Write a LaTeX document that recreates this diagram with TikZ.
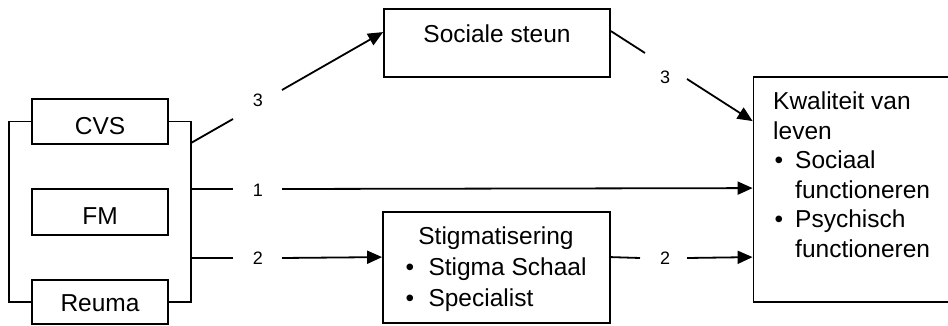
\documentclass[tikz,border=0pt]{standalone}
\usepackage{fontspec}
\setmainfont{Liberation Sans}
\usetikzlibrary{arrows.meta,calc}
\tikzset{
  box/.style={draw, line width=1.8pt, inner sep=0pt, font=\fontsize{24.5}{29.5}\selectfont},
  conn/.style={line width=1.8pt},
  arr/.style={line width=1.8pt, -{Triangle[length=15pt,width=13pt]}},
  lbl/.style={inner sep=0pt, font=\fontsize{18}{20}\selectfont},
  txt/.style={inner sep=0pt, font=\fontsize{24.5}{29.5}\selectfont}
}
\begin{document}
\begin{tikzpicture}[x=1pt,y=-1pt]
\useasboundingbox (0,0) rectangle (948,326);
% left group boxes
\node[box, minimum width=136pt, minimum height=45pt, text height=25.5pt, text depth=0pt] (cvs) at (100,121.5) {CVS};
\node[box, minimum width=136pt, minimum height=46pt, text height=25.5pt, text depth=0pt] (fm) at (100,212) {FM};
\node[box, minimum width=136pt, minimum height=44pt, text height=18.5pt, text depth=0pt] (reuma) at (100,302) {Reuma};
% bracket
\draw[conn] (cvs.west) -- (9,121.5) -- (9,302) -- (reuma.west);
\draw[conn] (cvs.east) -- (191,121.5) coordinate (brtop) -- (191,302) coordinate (brbot) -- (reuma.east);
\coordinate (j3) at (191,143);
\coordinate (j1) at (191,189);
\coordinate (j2) at (191,258);
% other boxes
\node[box, minimum width=226pt, minimum height=68pt, text height=17.5pt, text depth=19pt] (ss) at (497,43) {Sociale steun};
\node[box, minimum width=227pt, minimum height=111pt] (stig) at (496.5,267.5) {};
\node[txt, anchor=base] (stigtxt) at (496,244) {\fontsize{24.5}{31}\selectfont\begin{tabular}[t]{@{}l@{}l@{}}
\multicolumn{2}{@{}c@{}}{Stigmatisering}\\
\makebox[23pt][l]{\textbullet} & Stigma Schaal\\
\makebox[23pt][l]{\textbullet} & Specialist
\end{tabular}};
\node[box, minimum width=197pt, minimum height=225pt] (kv) at (852,189.5) {};
\node[txt, anchor=base west] (kvtxt) at (773,110) {\fontsize{24.5}{29.5}\selectfont\begin{tabular}[t]{@{}l@{}l@{}}
\multicolumn{2}{@{}l@{}}{Kwaliteit van}\\
\multicolumn{2}{@{}l@{}}{leven}\\
\makebox[22pt][l]{\hspace{1.5pt}\textbullet} & Sociaal\\
 & functioneren\\
\makebox[22pt][l]{\hspace{1.5pt}\textbullet} & Psychisch\\
 & functioneren
\end{tabular}};
% connector 3 (left)
\coordinate (g3a) at (233,119);
\coordinate (g3b) at (282,90);
\draw[conn] (j3) -- (g3a);
\node[lbl] (l3a) at (258,100) {3};
\draw[arr] (g3b) -- ($(ss.north west)+(0,24)$);
% connector 3 (right)
\coordinate (g3c) at (645,53);
\coordinate (g3d) at (687,79);
\draw[conn] ($(ss.north east)+(0,23)$) -- (g3c);
\node[lbl] (l3b) at (665,77) {3};
\draw[arr] (g3d) -- ($(kv.north west)+(0,45)$);
% connector 1
\coordinate (g1a) at (233,189);
\coordinate (g1b) at (282,189);
\draw[conn] (j1) -- (g1a);
\node[lbl] (l1) at (258,190) {1};
\draw[arr] (g1b) -- ($(kv.north west)+(0,112)$);
% connector 2 (left)
\coordinate (g2a) at (233,258);
\coordinate (g2b) at (282,258);
\draw[conn] (j2) -- (g2a);
\node[lbl] (l2a) at (258,258) {2};
\draw[arr] (g2b) -- ($(stig.north west)+(0,46)$);
% connector 2 (right)
\coordinate (g2c) at (640,258);
\coordinate (g2d) at (687,258);
\draw[conn] ($(stig.north east)+(0,46)$) -- (g2c);
\node[lbl] (l2b) at (665,258) {2};
\draw[arr] (g2d) -- ($(kv.north west)+(0,181)$);
\end{tikzpicture}
\end{document}
